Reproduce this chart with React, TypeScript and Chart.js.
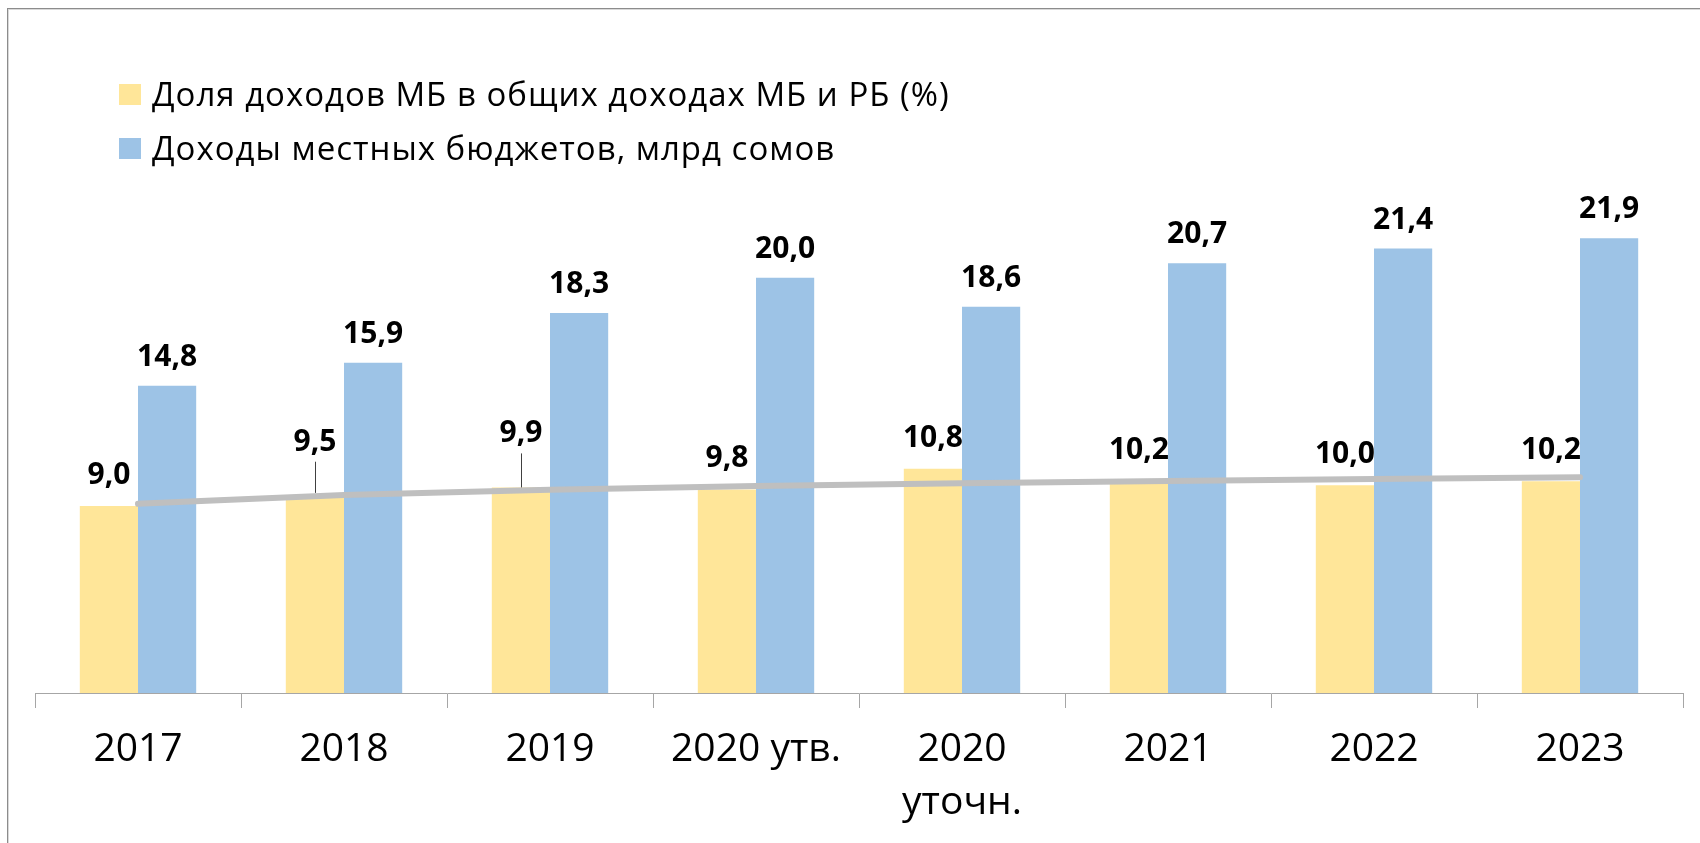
import React, { useEffect, useRef } from "react";
import { Chart, registerables } from "chart.js";

Chart.register(...registerables);

const categories: (string | string[])[] = [
  "2017",
  "2018",
  "2019",
  "2020 утв.",
  ["2020", "уточн."],
  "2021",
  "2022",
  "2023",
];
const shareValues = [9.0, 9.5, 9.9, 9.8, 10.8, 10.2, 10.0, 10.2];
const incomeValues = [14.8, 15.9, 18.3, 20.0, 18.6, 20.7, 21.4, 21.9];
const seriesNames = [
  "Доля доходов МБ в общих доходах МБ и РБ (%)",
  "Доходы местных бюджетов, млрд сомов",
];
const leaderLabelIdx = [1, 2];

const FONT = "'Open Sans', 'Noto Sans', sans-serif";
const YELLOW = "#FFE699";
const BLUE = "#9DC3E6";
const TREND = "#BFBFBF";

// Logarithmic trendline (Excel style): y = a + b * ln(x), x = 1..n
function logTrend(vals: number[]) {
  const n = vals.length;
  const L = vals.map((_, i) => Math.log(i + 1));
  const mL = L.reduce((s, v) => s + v, 0) / n;
  const mY = vals.reduce((s, v) => s + v, 0) / n;
  let sxy = 0;
  let sxx = 0;
  for (let i = 0; i < n; i++) {
    sxy += (L[i] - mL) * (vals[i] - mY);
    sxx += (L[i] - mL) * (L[i] - mL);
  }
  const b = sxy / sxx;
  const a = mY - b * mL;
  return { a, b };
}
const trend = logTrend(shareValues);
const trendValues = shareValues.map((_, i) => trend.a + trend.b * Math.log(i + 1));

const fmt = (v: number) => v.toFixed(1).replace(".", ",");

const labelsPlugin = {
  id: "barLabels",
  afterDatasetsDraw(chart: any) {
    const ctx = chart.ctx;
    const xScale = chart.scales.x;
    const yScale = chart.scales.y;
    ctx.save();
    ctx.font = `bold 30px ${FONT}`;
    ctx.fillStyle = "#000";
    ctx.textAlign = "center";
    ctx.textBaseline = "alphabetic";
    const m0 = chart.getDatasetMeta(0);
    const m1 = chart.getDatasetMeta(1);
    m1.data.forEach((bar: any, i: number) => {
      ctx.fillText(fmt(incomeValues[i]), bar.x, bar.y - 20);
    });
    m0.data.forEach((bar: any, i: number) => {
      const lead = leaderLabelIdx.includes(i);
      const base = lead ? bar.y - 45 : bar.y - 22;
      ctx.fillText(fmt(shareValues[i]), bar.x, base);
      if (lead) {
        const catW = xScale.width / categories.length;
        const f = i + (bar.x - xScale.getPixelForValue(i)) / catW;
        const ty = yScale.getPixelForValue(trend.a + trend.b * Math.log(f + 1));
        const lx = Math.round(bar.x) + 0.5;
        ctx.strokeStyle = "#404040";
        ctx.lineWidth = 1;
        ctx.beginPath();
        ctx.moveTo(lx, base + 11);
        ctx.lineTo(lx, ty - 3);
        ctx.stroke();
      }
    });
    ctx.restore();
  },
};

export default function App() {
  const ref = useRef<HTMLCanvasElement | null>(null);

  useEffect(() => {
    if (!ref.current) return;
    const chart = new Chart(ref.current, {
      type: "bar",
      data: {
        labels: categories,
        datasets: [
          {
            type: "bar",
            label: seriesNames[0],
            data: shareValues,
            backgroundColor: YELLOW,
            borderWidth: 0,
            barPercentage: 1,
            categoryPercentage: 0.565,
            order: 2,
          },
          {
            type: "bar",
            label: seriesNames[1],
            data: incomeValues,
            backgroundColor: BLUE,
            borderWidth: 0,
            barPercentage: 1,
            categoryPercentage: 0.565,
            order: 2,
          },
          {
            type: "line",
            label: "trend",
            data: trendValues,
            borderColor: TREND,
            borderWidth: 6,
            borderCapStyle: "round",
            pointRadius: 0,
            cubicInterpolationMode: "monotone",
            fill: false,
            order: 1,
          } as any,
        ],
      },
      options: {
        responsive: false,
        animation: false,
        layout: { padding: { top: 70, left: 35, right: 17, bottom: 0 } },
        plugins: {
          legend: { display: false },
          tooltip: { enabled: false },
          title: { display: false },
        },
        scales: {
          x: {
            offset: true,
            afterFit: (scale: any) => {
              scale.height = 150;
            },
            grid: {
              offset: true,
              drawOnChartArea: false,
              drawTicks: true,
              tickLength: 15,
              color: "#A6A6A6",
              lineWidth: 1,
            },
            border: { display: true, color: "#A6A6A6", width: 1 },
            ticks: {
              color: "#000",
              padding: 15,
              maxRotation: 0,
              autoSkip: false,
              font: { family: FONT, size: 39, lineHeight: 1.36 },
            },
          },
          y: {
            display: false,
            min: 0,
            max: 30,
          },
        },
      },
      plugins: [labelsPlugin],
    });
    return () => chart.destroy();
  }, []);

  const legendItem = (color: string, text: string, top: number) => (
    <div
      style={{
        position: "absolute",
        left: 119,
        top,
        height: 22,
        display: "flex",
        alignItems: "center",
        whiteSpace: "nowrap",
      }}
    >
      <div style={{ width: 22, height: 21, background: color, marginRight: 11 }} />
      <span
        style={{
          fontFamily: FONT,
          fontSize: 33,
          letterSpacing: 1,
          color: "#000",
          lineHeight: "22px",
        }}
      >
        {text}
      </span>
    </div>
  );

  return (
    <div
      style={{
        position: "fixed",
        left: 0,
        top: 0,
        width: 1700,
        height: 843,
        overflow: "hidden",
        background: "#fff",
      }}
    >
      <div
        style={{
          position: "absolute",
          left: 7,
          top: 8,
          width: 1760,
          height: 900,
          border: "1px solid #8C8C8C",
          boxShadow: "inset 1px 1px 0 #D9D9D9",
        }}
      />
      <canvas
        ref={ref}
        width={1700}
        height={843}
        style={{ position: "absolute", left: 0, top: 0, width: 1700, height: 843 }}
      />
      {legendItem(YELLOW, seriesNames[0], 83)}
      {legendItem(BLUE, seriesNames[1], 137)}
    </div>
  );
}
